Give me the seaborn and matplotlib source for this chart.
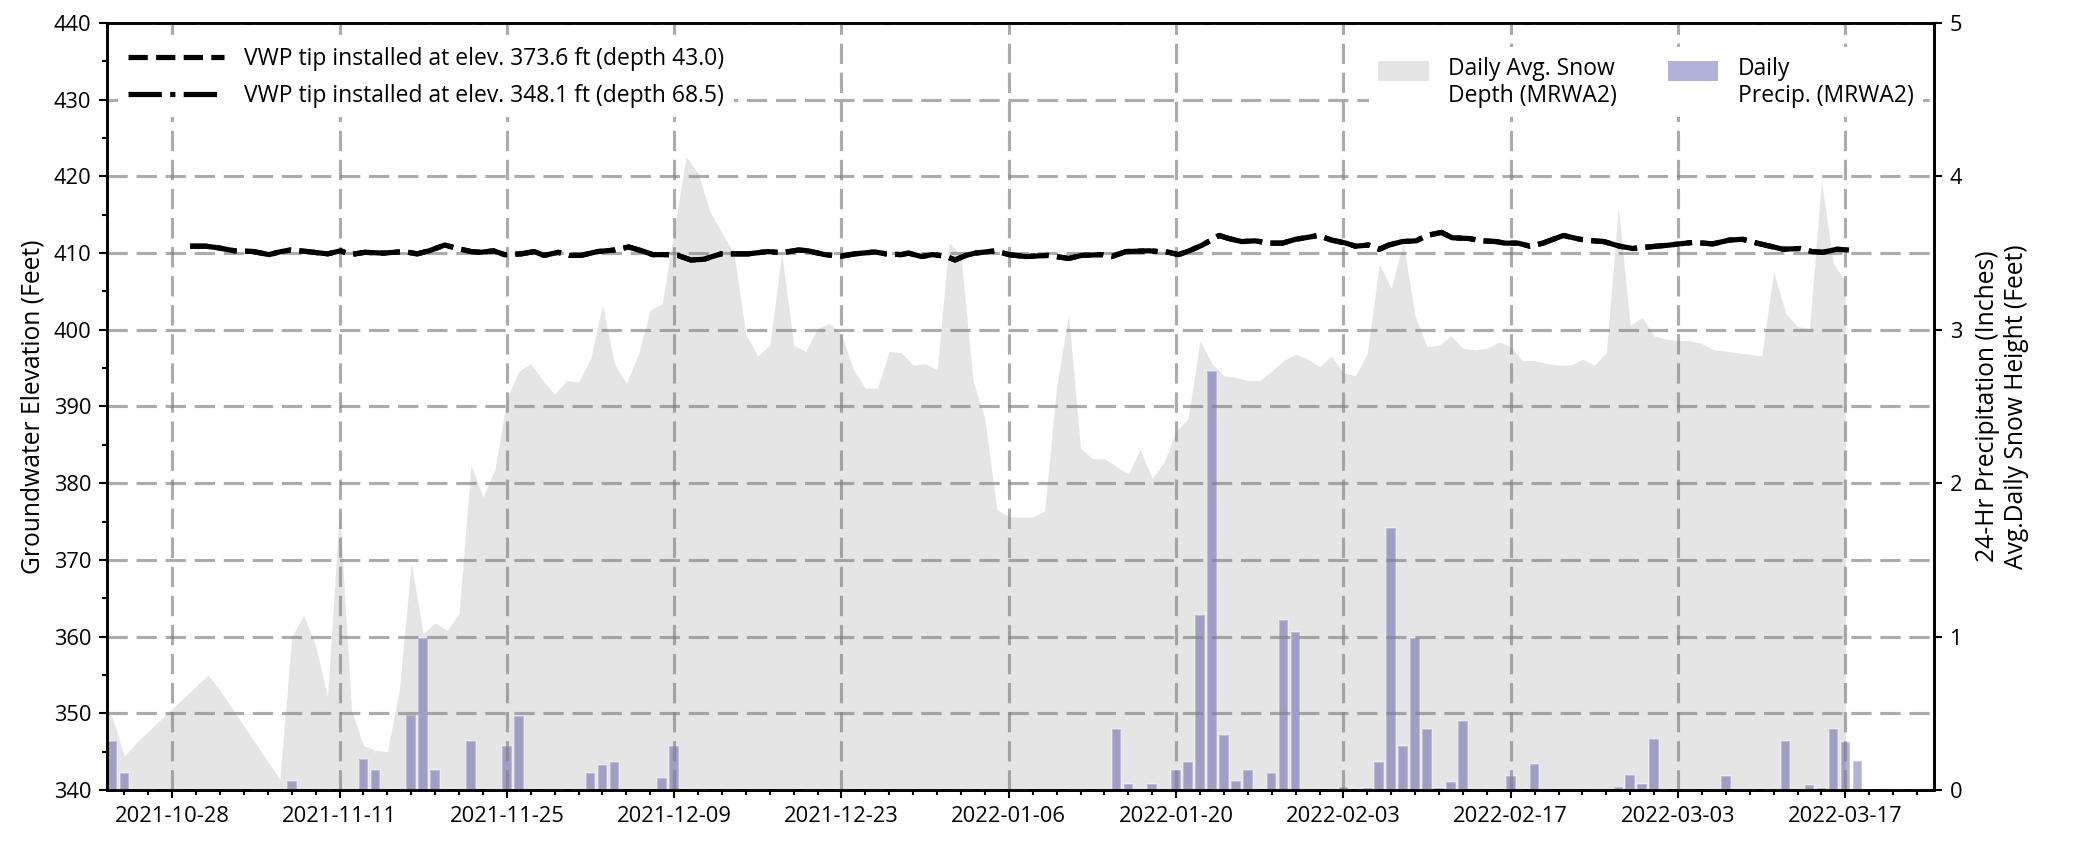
import matplotlib
matplotlib.use("Agg")
import matplotlib.pyplot as plt
import matplotlib.dates as mdates
import matplotlib.ticker as mticker
from matplotlib.patches import Rectangle
from matplotlib.legend_handler import HandlerPatch
import numpy as np
import pandas as pd
import seaborn as sns

# ---------------- data ----------------
precip_dates = ["2021-10-23", "2021-10-24", "2021-11-07", "2021-11-13", "2021-11-14",
                "2021-11-17", "2021-11-18", "2021-11-19", "2021-11-22", "2021-11-25",
                "2021-11-26", "2021-12-02", "2021-12-03", "2021-12-04", "2021-12-08",
                "2021-12-09", "2022-01-15", "2022-01-16", "2022-01-18", "2022-01-20",
                "2022-01-21", "2022-01-22", "2022-01-23", "2022-01-24", "2022-01-25",
                "2022-01-26", "2022-01-28", "2022-01-29", "2022-01-30", "2022-02-03",
                "2022-02-05", "2022-02-06", "2022-02-07", "2022-02-08", "2022-02-09",
                "2022-02-10", "2022-02-11", "2022-02-12", "2022-02-13", "2022-02-17",
                "2022-02-19", "2022-02-26", "2022-02-27", "2022-02-28", "2022-03-01",
                "2022-03-07", "2022-03-12", "2022-03-14", "2022-03-15", "2022-03-16",
                "2022-03-17", "2022-03-18"]
precip_in = [0.32, 0.11, 0.06, 0.20, 0.13,
             0.49, 0.99, 0.13, 0.32, 0.29,
             0.48, 0.11, 0.16, 0.18, 0.08,
             0.29, 0.40, 0.04, 0.04, 0.13,
             0.18, 1.14, 2.73, 0.36, 0.06,
             0.13, 0.11, 1.11, 1.03, 0.02,
             0.01, 0.18, 1.71, 0.29, 0.99,
             0.40, 0.01, 0.05, 0.45, 0.09,
             0.17, 0.02, 0.10, 0.04, 0.33,
             0.09, 0.32, 0.03, 0.01, 0.40,
             0.31, 0.19]

snow_dates = ["2021-10-22", "2021-10-23", "2021-10-24", "2021-10-25", "2021-10-31",
              "2021-11-01", "2021-11-06", "2021-11-07", "2021-11-08", "2021-11-09",
              "2021-11-10", "2021-11-11", "2021-11-12", "2021-11-13", "2021-11-14",
              "2021-11-15", "2021-11-16", "2021-11-17", "2021-11-18", "2021-11-19",
              "2021-11-20", "2021-11-21", "2021-11-22", "2021-11-23", "2021-11-24",
              "2021-11-25", "2021-11-26", "2021-11-27", "2021-11-28", "2021-11-29",
              "2021-11-30", "2021-12-01", "2021-12-02", "2021-12-03", "2021-12-04",
              "2021-12-05", "2021-12-06", "2021-12-07", "2021-12-08", "2021-12-09",
              "2021-12-10", "2021-12-11", "2021-12-12", "2021-12-13", "2021-12-14",
              "2021-12-15", "2021-12-16", "2021-12-17", "2021-12-18", "2021-12-19",
              "2021-12-20", "2021-12-21", "2021-12-22", "2021-12-23", "2021-12-24",
              "2021-12-25", "2021-12-26", "2021-12-27", "2021-12-28", "2021-12-29",
              "2021-12-30", "2021-12-31", "2022-01-01", "2022-01-02", "2022-01-03",
              "2022-01-04", "2022-01-05", "2022-01-06", "2022-01-07", "2022-01-08",
              "2022-01-09", "2022-01-10", "2022-01-11", "2022-01-12", "2022-01-13",
              "2022-01-14", "2022-01-15", "2022-01-16", "2022-01-17", "2022-01-18",
              "2022-01-19", "2022-01-20", "2022-01-21", "2022-01-22", "2022-01-23",
              "2022-01-24", "2022-01-25", "2022-01-26", "2022-01-27", "2022-01-28",
              "2022-01-29", "2022-01-30", "2022-01-31", "2022-02-01", "2022-02-02",
              "2022-02-03", "2022-02-04", "2022-02-05", "2022-02-06", "2022-02-07",
              "2022-02-08", "2022-02-09", "2022-02-10", "2022-02-11", "2022-02-12",
              "2022-02-13", "2022-02-14", "2022-02-15", "2022-02-16", "2022-02-17",
              "2022-02-18", "2022-02-19", "2022-02-20", "2022-02-21", "2022-02-22",
              "2022-02-23", "2022-02-24", "2022-02-25", "2022-02-26", "2022-02-27",
              "2022-02-28", "2022-03-01", "2022-03-02", "2022-03-03", "2022-03-04",
              "2022-03-05", "2022-03-06", "2022-03-07", "2022-03-08", "2022-03-09",
              "2022-03-10", "2022-03-11", "2022-03-12", "2022-03-13", "2022-03-14",
              "2022-03-15", "2022-03-16", "2022-03-17"]
snow_ft = [0.58, 0.47, 0.22, 0.31, 0.75,
           0.65, 0.07, 1.00, 1.14, 0.94,
           0.61, 1.84, 0.52, 0.29, 0.26,
           0.25, 0.65, 1.48, 1.02, 1.09,
           1.04, 1.15, 2.12, 1.91, 2.09,
           2.55, 2.73, 2.78, 2.67, 2.58,
           2.67, 2.66, 2.81, 3.16, 2.78,
           2.65, 2.84, 3.13, 3.17, 3.65,
           4.13, 4.02, 3.77, 3.63, 3.50,
           2.97, 2.83, 2.90, 3.50, 2.90,
           2.86, 3.01, 3.04, 2.97, 2.74,
           2.62, 2.62, 2.86, 2.85, 2.77,
           2.78, 2.74, 3.57, 3.48, 2.67,
           2.42, 1.83, 1.78, 1.78, 1.78,
           1.82, 2.63, 3.10, 2.23, 2.16,
           2.16, 2.11, 2.06, 2.22, 2.03,
           2.14, 2.34, 2.42, 2.93, 2.78,
           2.70, 2.69, 2.67, 2.67, 2.73,
           2.80, 2.84, 2.81, 2.76, 2.83,
           2.72, 2.70, 2.85, 3.43, 3.27,
           3.57, 3.09, 2.89, 2.90, 2.96,
           2.88, 2.87, 2.88, 2.92, 2.89,
           2.80, 2.80, 2.78, 2.77, 2.77,
           2.81, 2.77, 2.85, 3.80, 3.03,
           3.08, 2.96, 2.94, 2.93, 2.93,
           2.91, 2.87, 2.86, 2.85, 2.84,
           2.83, 3.38, 3.11, 3.02, 3.01,
           3.97, 3.43, 3.32]

gw_base_date = "2021-10-28"
gw_day = [1.5, 2.8, 3.8, 5.2, 6.8, 8.1, 9.1, 9.9, 11.3, 13.0,
          14.1, 14.9, 16.1, 17.7, 19.4, 20.5, 21.5, 22.8, 23.9, 25.0,
          25.8, 26.9, 27.8, 29.2, 30.3, 31.1, 32.3, 33.2, 34.2, 35.6,
          37.0, 38.2, 39.5, 40.2, 41.4, 42.3, 43.4, 44.5, 45.9, 46.8,
          48.2, 49.8, 51.0, 52.4, 53.2, 54.6, 56.0, 57.1, 58.8, 59.7,
          61.0, 61.6, 62.7, 63.6, 64.7, 65.5, 66.4, 67.2, 68.9, 70.0,
          71.4, 73.3, 75.0, 76.1, 77.8, 78.6, 79.8, 81.7, 83.4, 84.2,
          85.1, 86.2, 87.6, 88.4, 89.5, 90.6, 91.8, 92.9, 94.0, 94.8,
          95.9, 97.0, 98.2, 99.0, 100.1, 101.0, 101.8, 102.9, 104.1, 105.0,
          106.2, 107.1, 108.5, 109.6, 110.8, 111.5, 112.6, 113.6, 114.7, 116.4,
          117.8, 118.9, 119.8, 121.1, 122.2, 124.2, 125.3, 126.1, 127.3, 128.9,
          130.3, 131.4, 132.6, 133.7, 134.8, 136.2, 137.2, 138.1, 139.3, 140.3]
gw_elev_tip1 = [410.9, 410.9, 410.7, 410.3, 410.2, 409.8, 410.2, 410.4, 410.2, 409.9,
                410.3, 409.8, 410.1, 410.0, 410.2, 409.9, 410.3, 411.05, 410.6, 410.2,
                410.1, 410.3, 409.8, 409.9, 410.2, 409.7, 410.1, 409.7, 409.7, 410.2,
                410.4, 410.8, 410.2, 409.8, 409.8, 409.7, 409.1, 409.2, 409.9, 409.9,
                409.9, 410.2, 410.05, 410.4, 410.3, 409.8, 409.6, 409.9, 410.15, 409.9,
                409.8, 410.0, 409.55, 409.8, 409.6, 409.1, 409.7, 410.0, 410.3, 409.8,
                409.55, 409.7, 409.3, 409.7, 409.8, 409.55, 410.2, 410.3, 410.1, 409.8,
                410.3, 411.05, 412.3, 411.9, 411.5, 411.6, 411.3, 411.3, 411.8, 412.0,
                412.3, 411.7, 411.3, 410.9, 411.05, 410.5, 411.05, 411.5, 411.6, 412.3,
                412.7, 412.0, 411.9, 411.6, 411.5, 411.3, 411.3, 410.9, 411.3, 412.3,
                411.8, 411.6, 411.5, 410.9, 410.6, 410.9, 411.05, 411.2, 411.4, 411.2,
                411.7, 411.8, 411.3, 410.9, 410.5, 410.6, 410.2, 410.1, 410.5, 410.4]
gw_elev_tip2 = list(gw_elev_tip1)

labels_gw = ["VWP tip installed at elev. 373.6 ft (depth 43.0)",
             "VWP tip installed at elev. 348.1 ft (depth 68.5)"]
label_snow = "Daily Avg. Snow\nDepth (MRWA2)"
label_precip = "Daily\nPrecip. (MRWA2)"

# ---------------- style ----------------
sns.set_style("ticks")
plt.rcParams['font.family'] = ['Open Sans', 'DejaVu Sans']
plt.rcParams.update({
    'font.size': 10.5,
    'text.color': 'black',
    'axes.labelcolor': 'black',
    'axes.edgecolor': 'black',
    'xtick.color': 'black',
    'ytick.color': 'black',
    'axes.linewidth': 1.25,
})

W, H, DPI = 2074, 845, 150
fig = plt.figure(figsize=(W / DPI, H / DPI), dpi=DPI)
ax = fig.add_axes([107 / W, 1 - 790 / H, (1934 - 107) / W, (790 - 23) / H])
ax2 = ax.twinx()

gw_time = pd.Timestamp(gw_base_date) + pd.to_timedelta(gw_day, unit="D")
sdates = pd.to_datetime(snow_dates)
pdates = pd.to_datetime(precip_dates)

SNOW_COLOR, SNOW_ALPHA = "gray", 0.2
PRECIP_COLOR, PRECIP_ALPHA = "navy", 0.3

# secondary axis: snow depth and precipitation
ax2.fill_between(sdates, 0, snow_ft, color=SNOW_COLOR, alpha=SNOW_ALPHA, lw=0)
ax2.bar(pdates, precip_in, width=0.8, color=PRECIP_COLOR, alpha=PRECIP_ALPHA)
ax2.set_ylim(0, 5)
ax2.set_yticks([0, 1, 2, 3, 4, 5])
ax2.set_ylabel("24-Hr Precipitation (Inches)\nAvg.Daily Snow Height (Feet)",
               fontsize=11.8, labelpad=6)

# primary axis: groundwater
sns.lineplot(x=gw_time, y=gw_elev_tip1, ax=ax, color="black", lw=2.5,
             linestyle="--", label=labels_gw[0], legend=False)
sns.lineplot(x=gw_time, y=gw_elev_tip2, ax=ax, color="black", lw=2.5,
             linestyle="-.", label=labels_gw[1], legend=False)

ax.set_zorder(ax2.get_zorder() + 1)
ax.patch.set_visible(False)

ax.set_ylim(340, 440)
ax.yaxis.set_major_locator(mticker.MultipleLocator(10))
ax.yaxis.set_minor_locator(mticker.MultipleLocator(5))
ax.set_ylabel("Groundwater Elevation (Feet)", fontsize=11.8)
ax.set_xlabel("")

ax.set_xlim(pd.Timestamp("2021-10-22 13:00"), pd.Timestamp("2022-03-24 10:00"))
ax.xaxis.set_major_locator(mticker.MultipleLocator(14))
ax.xaxis.set_minor_locator(mticker.MultipleLocator(2))
ax.xaxis.set_major_formatter(mdates.DateFormatter("%Y-%m-%d"))

ax.grid(True, which="major", axis="both", color="gray", alpha=0.65, lw=1.5,
        linestyle=(0, (6.5, 2.8)))

for a in (ax, ax2):
    a.tick_params(which="major", length=4, width=1.0, labelsize=10.5)
    a.tick_params(which="minor", length=2.5, width=1.0)
    for s in a.spines.values():
        s.set_visible(True)
        s.set_linewidth(1.25)
        s.set_color("black")

# legends
leg1 = ax.legend(loc="upper left", bbox_to_anchor=(0.0, 0.995),
                 handlelength=4.2, handletextpad=0.9, labelspacing=0.55,
                 frameon=True, facecolor="white", edgecolor="none",
                 framealpha=1, fontsize=11)
ax.add_artist(leg1)


def raised_patch(legend, orig_handle, xdescent, ydescent, width, height, fontsize):
    # legend swatch aligned with the first text line, as in the reference
    return Rectangle((-xdescent, -ydescent + 0.56 * fontsize), width, height)


snow_key = Rectangle((0, 0), 1, 1, facecolor=SNOW_COLOR, alpha=SNOW_ALPHA, lw=0)
precip_key = Rectangle((0, 0), 1, 1, facecolor=PRECIP_COLOR, alpha=PRECIP_ALPHA, lw=0)
ax.legend([snow_key, precip_key], [label_snow, label_precip], loc="upper right",
          bbox_to_anchor=(1.0, 0.983), ncol=2, handlelength=2.2,
          handleheight=1.0, handletextpad=0.85, columnspacing=2.2,
          handler_map={Rectangle: HandlerPatch(patch_func=raised_patch)},
          frameon=True, facecolor="white", edgecolor="none", framealpha=1,
          fontsize=11)

fig.savefig("out.png", dpi=DPI)
